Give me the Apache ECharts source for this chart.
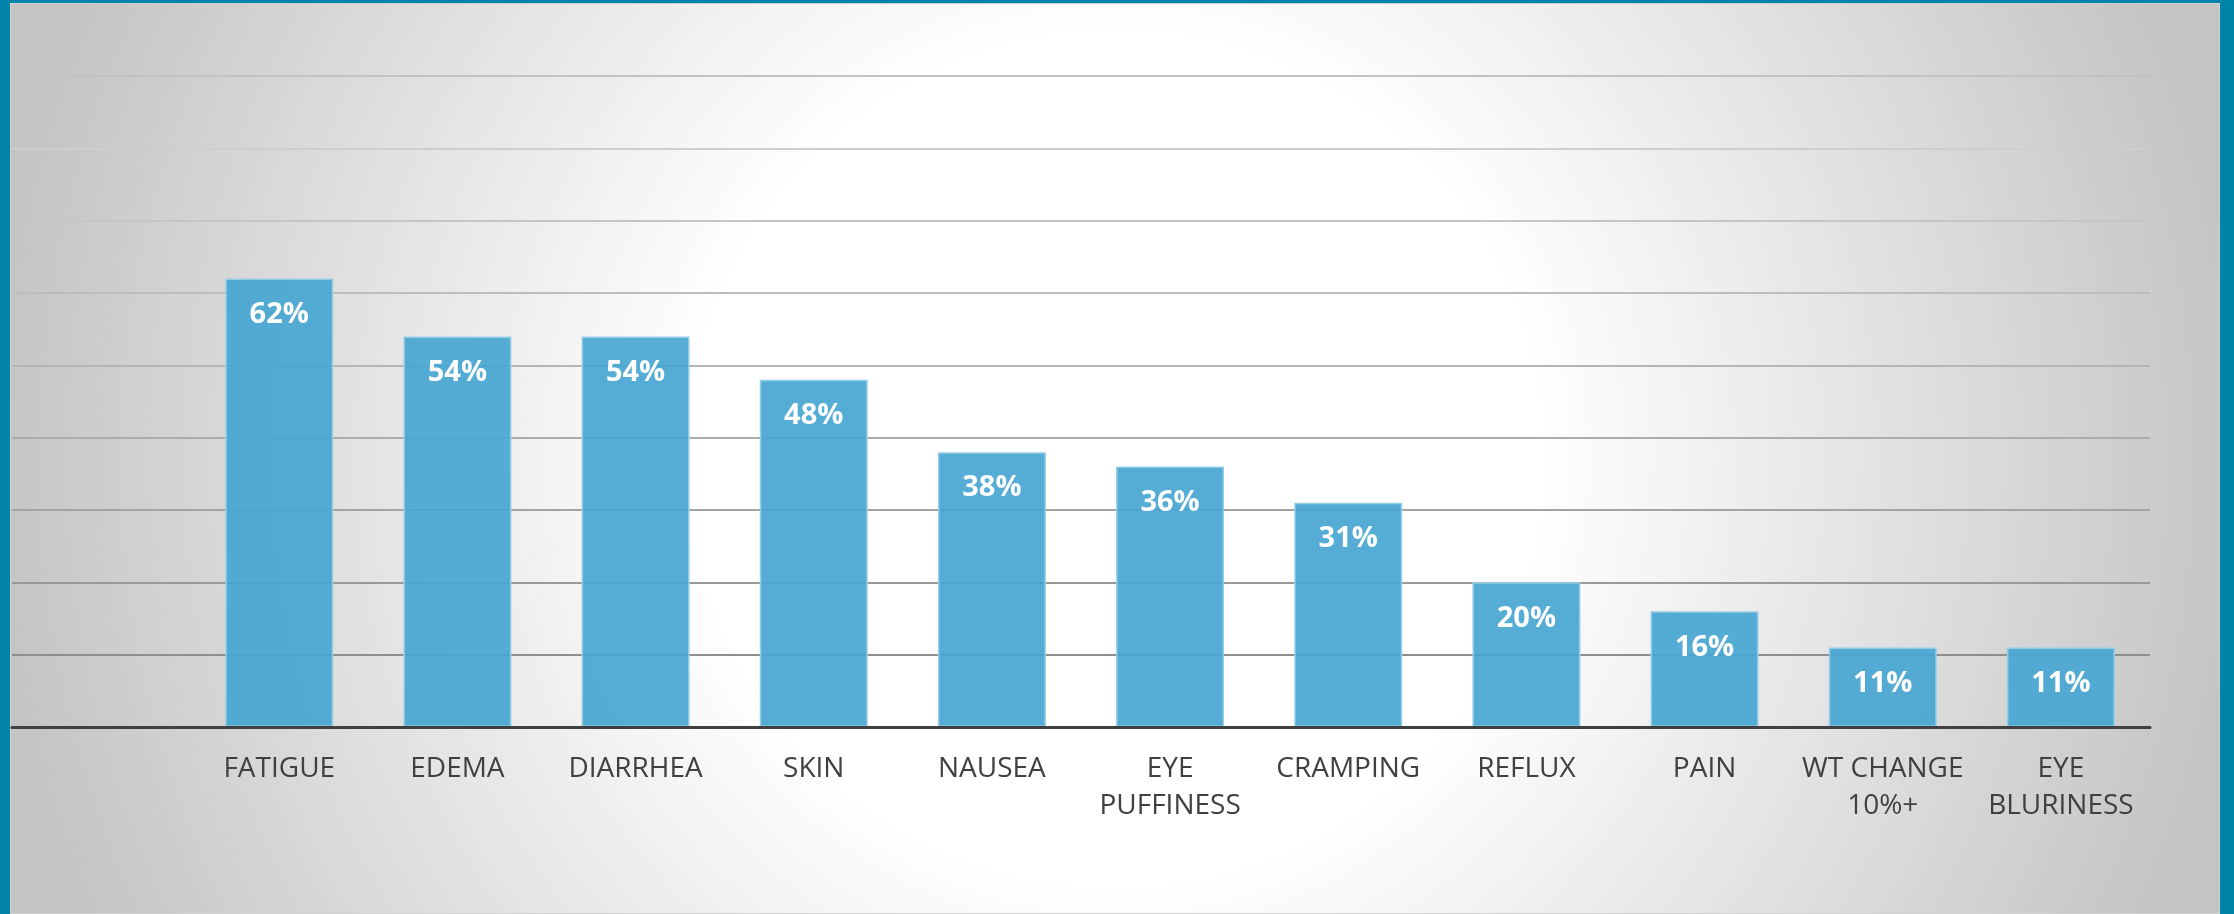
<!DOCTYPE html>
<html>
<head>
<meta charset="utf-8">
<script src="https://cdn.jsdelivr.net/npm/echarts@6/dist/echarts.min.js"></script>
<style>
  html, body { margin: 0; padding: 0; width: 2234px; height: 914px; overflow: hidden; background: #0083A8; }
  #bg {
    position: absolute; left: 10px; top: 3px; width: 2208px; height: 909px;
    border: 1px solid #d2d2d2;
    background: radial-gradient(circle at 1105px 455px, #ffffff 0px, #ffffff 420px, #c4c4c4 1130px);
  }
  #chart { position: absolute; left: 0; top: 0; width: 2234px; height: 914px; }
</style>
</head>
<body>
<div id="bg"></div>
<div id="chart"></div>
<script>
const categories = ['', 'FATIGUE', 'EDEMA', 'DIARRHEA', 'SKIN', 'NAUSEA', 'EYE\nPUFFINESS', 'CRAMPING', 'REFLUX', 'PAIN', 'WT CHANGE\n10%+', 'EYE\nBLURINESS'];
const values = [null, 62, 54, 54, 48, 38, 36, 31, 20, 16, 11, 11];
const yMin = 0;
const yMax = 90;
const yStep = 10;

const chart = echarts.init(document.getElementById('chart'), null, { renderer: 'canvas' });
chart.setOption({
  backgroundColor: 'transparent',
  animation: false,
  grid: { left: 12, right: 84, top: 76, bottom: 187, containLabel: false },
  xAxis: {
    type: 'category',
    data: categories,
    axisLine: { show: true, lineStyle: { color: '#404040', width: 3 } },
    axisTick: { show: false },
    axisLabel: {
      interval: 0,
      margin: 24,
      color: '#404040',
      fontFamily: 'Open Sans',
      fontSize: 28,
      lineHeight: 37,
      align: 'center'
    },
    z: 10
  },
  yAxis: {
    type: 'value',
    min: yMin, max: yMax, interval: yStep,
    axisLine: { show: false },
    axisTick: { show: false },
    axisLabel: { show: false },
    splitLine: {
      show: true,
      lineStyle: {
        width: 2,
        color: ['#8a8a8a', '#8e8e8e', '#999999', '#a3a3a3', '#acacac', '#b5b5b5', '#bdbdbd', '#c5c5c5', '#cecece', '#c2c2c2']
      }
    }
  },
  series: [{
    type: 'bar',
    data: values,
    barCategoryGap: '39.4%',
    itemStyle: {
      color: 'rgba(70,166,210,0.92)',
      borderColor: '#95cde7',
      borderWidth: 1.5
    },
    label: {
      show: true,
      position: 'insideTop',
      distance: 20,
      formatter: '{c}%',
      color: '#ffffff',
      fontFamily: 'Open Sans',
      fontWeight: 'bold',
      fontSize: 29,
      lineHeight: 32
    }
  }]
});
</script>
</body>
</html>
